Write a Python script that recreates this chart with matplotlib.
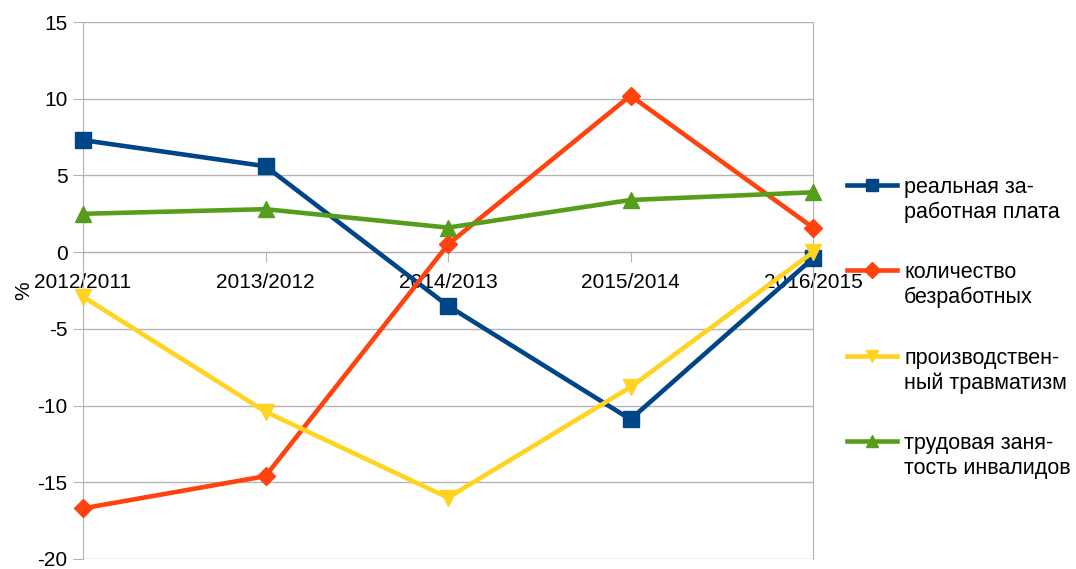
import matplotlib
matplotlib.use("Agg")
import numpy as np
import matplotlib.pyplot as plt
from matplotlib.legend_handler import HandlerLine2D

plt.rcParams['font.family'] = ['Liberation Sans', 'DejaVu Sans']
plt.rcParams['axes.unicode_minus'] = False

periods = ["2012/2011", "2013/2012", "2014/2013", "2015/2014", "2016/2015"]
real_wage = [7.3, 5.6, -3.5, -10.9, -0.4]
unemployed = [-16.7, -14.6, 0.5, 10.2, 1.6]
injuries = [-2.9, -10.4, -16.0, -8.8, 0.0]
disabled_empl = [2.5, 2.8, 1.6, 3.4, 3.9]

labels = ["реальная за-\nработная плата", "количество\nбезработных",
          "производствен-\nный травматизм", "трудовая заня-\nтость инвалидов"]


# legend handle lined up with the first text line instead of the middle
class TopLineHandler(HandlerLine2D):
    def create_artists(self, legend, orig_handle, xdescent, ydescent,
                       width, height, fontsize, trans):
        arts = super().create_artists(legend, orig_handle, xdescent, ydescent,
                                      width, height, fontsize, trans)
        for a in arts:
            a.set_ydata(np.asarray(a.get_ydata()) + 0.72 * fontsize)
        return arts


fig = plt.figure(figsize=(10.76, 5.69), dpi=100)
ax = fig.add_axes([83/1076, 10/569, 730/1076, 537/569])

x = range(len(periods))
series = [
    (real_wage, "#004586", "s", 11),
    (unemployed, "#ff420e", "D", 9),
    (injuries, "#ffd320", "v", 11),
    (disabled_empl, "#579d1c", "^", 11),
]
lines = []
for (vals, col, mk, ms), lab in zip(series, labels):
    ln, = ax.plot(x, vals, color=col, lw=3.3, marker=mk, markersize=ms,
                  label=lab, clip_on=False, zorder=3)
    lines.append(ln)

ax.set_xlim(0, 4)
ax.set_ylim(-20, 15)
ax.set_yticks(range(-20, 16, 5))
ax.yaxis.grid(True, color="#b3b3b3", lw=1)
ax.set_axisbelow(True)

ax.spines['bottom'].set_position(('data', 0))
for s in ['bottom', 'left', 'right']:
    ax.spines[s].set_color("#b3b3b3")
ax.spines['top'].set_visible(False)

ax.set_xticks(list(x))
ax.set_xticklabels(periods)
ax.tick_params(axis='x', colors="#b3b3b3", labelcolor="black", labelsize=15,
               length=7, pad=8)
ax.tick_params(axis='y', colors="#b3b3b3", labelcolor="black", labelsize=15,
               length=7, pad=4)
ax.set_ylabel("%", fontsize=15, labelpad=3)

handler = TopLineHandler()
fig.legend(handles=lines, loc="center left", bbox_to_anchor=(847/1076, 0.424),
           frameon=False, fontsize=15.5, handlelength=2.3, labelspacing=1.85,
           handletextpad=0.35, borderpad=0, borderaxespad=0, markerscale=0.85,
           handler_map={ln: handler for ln in lines})

fig.savefig("out.png", dpi=100)
